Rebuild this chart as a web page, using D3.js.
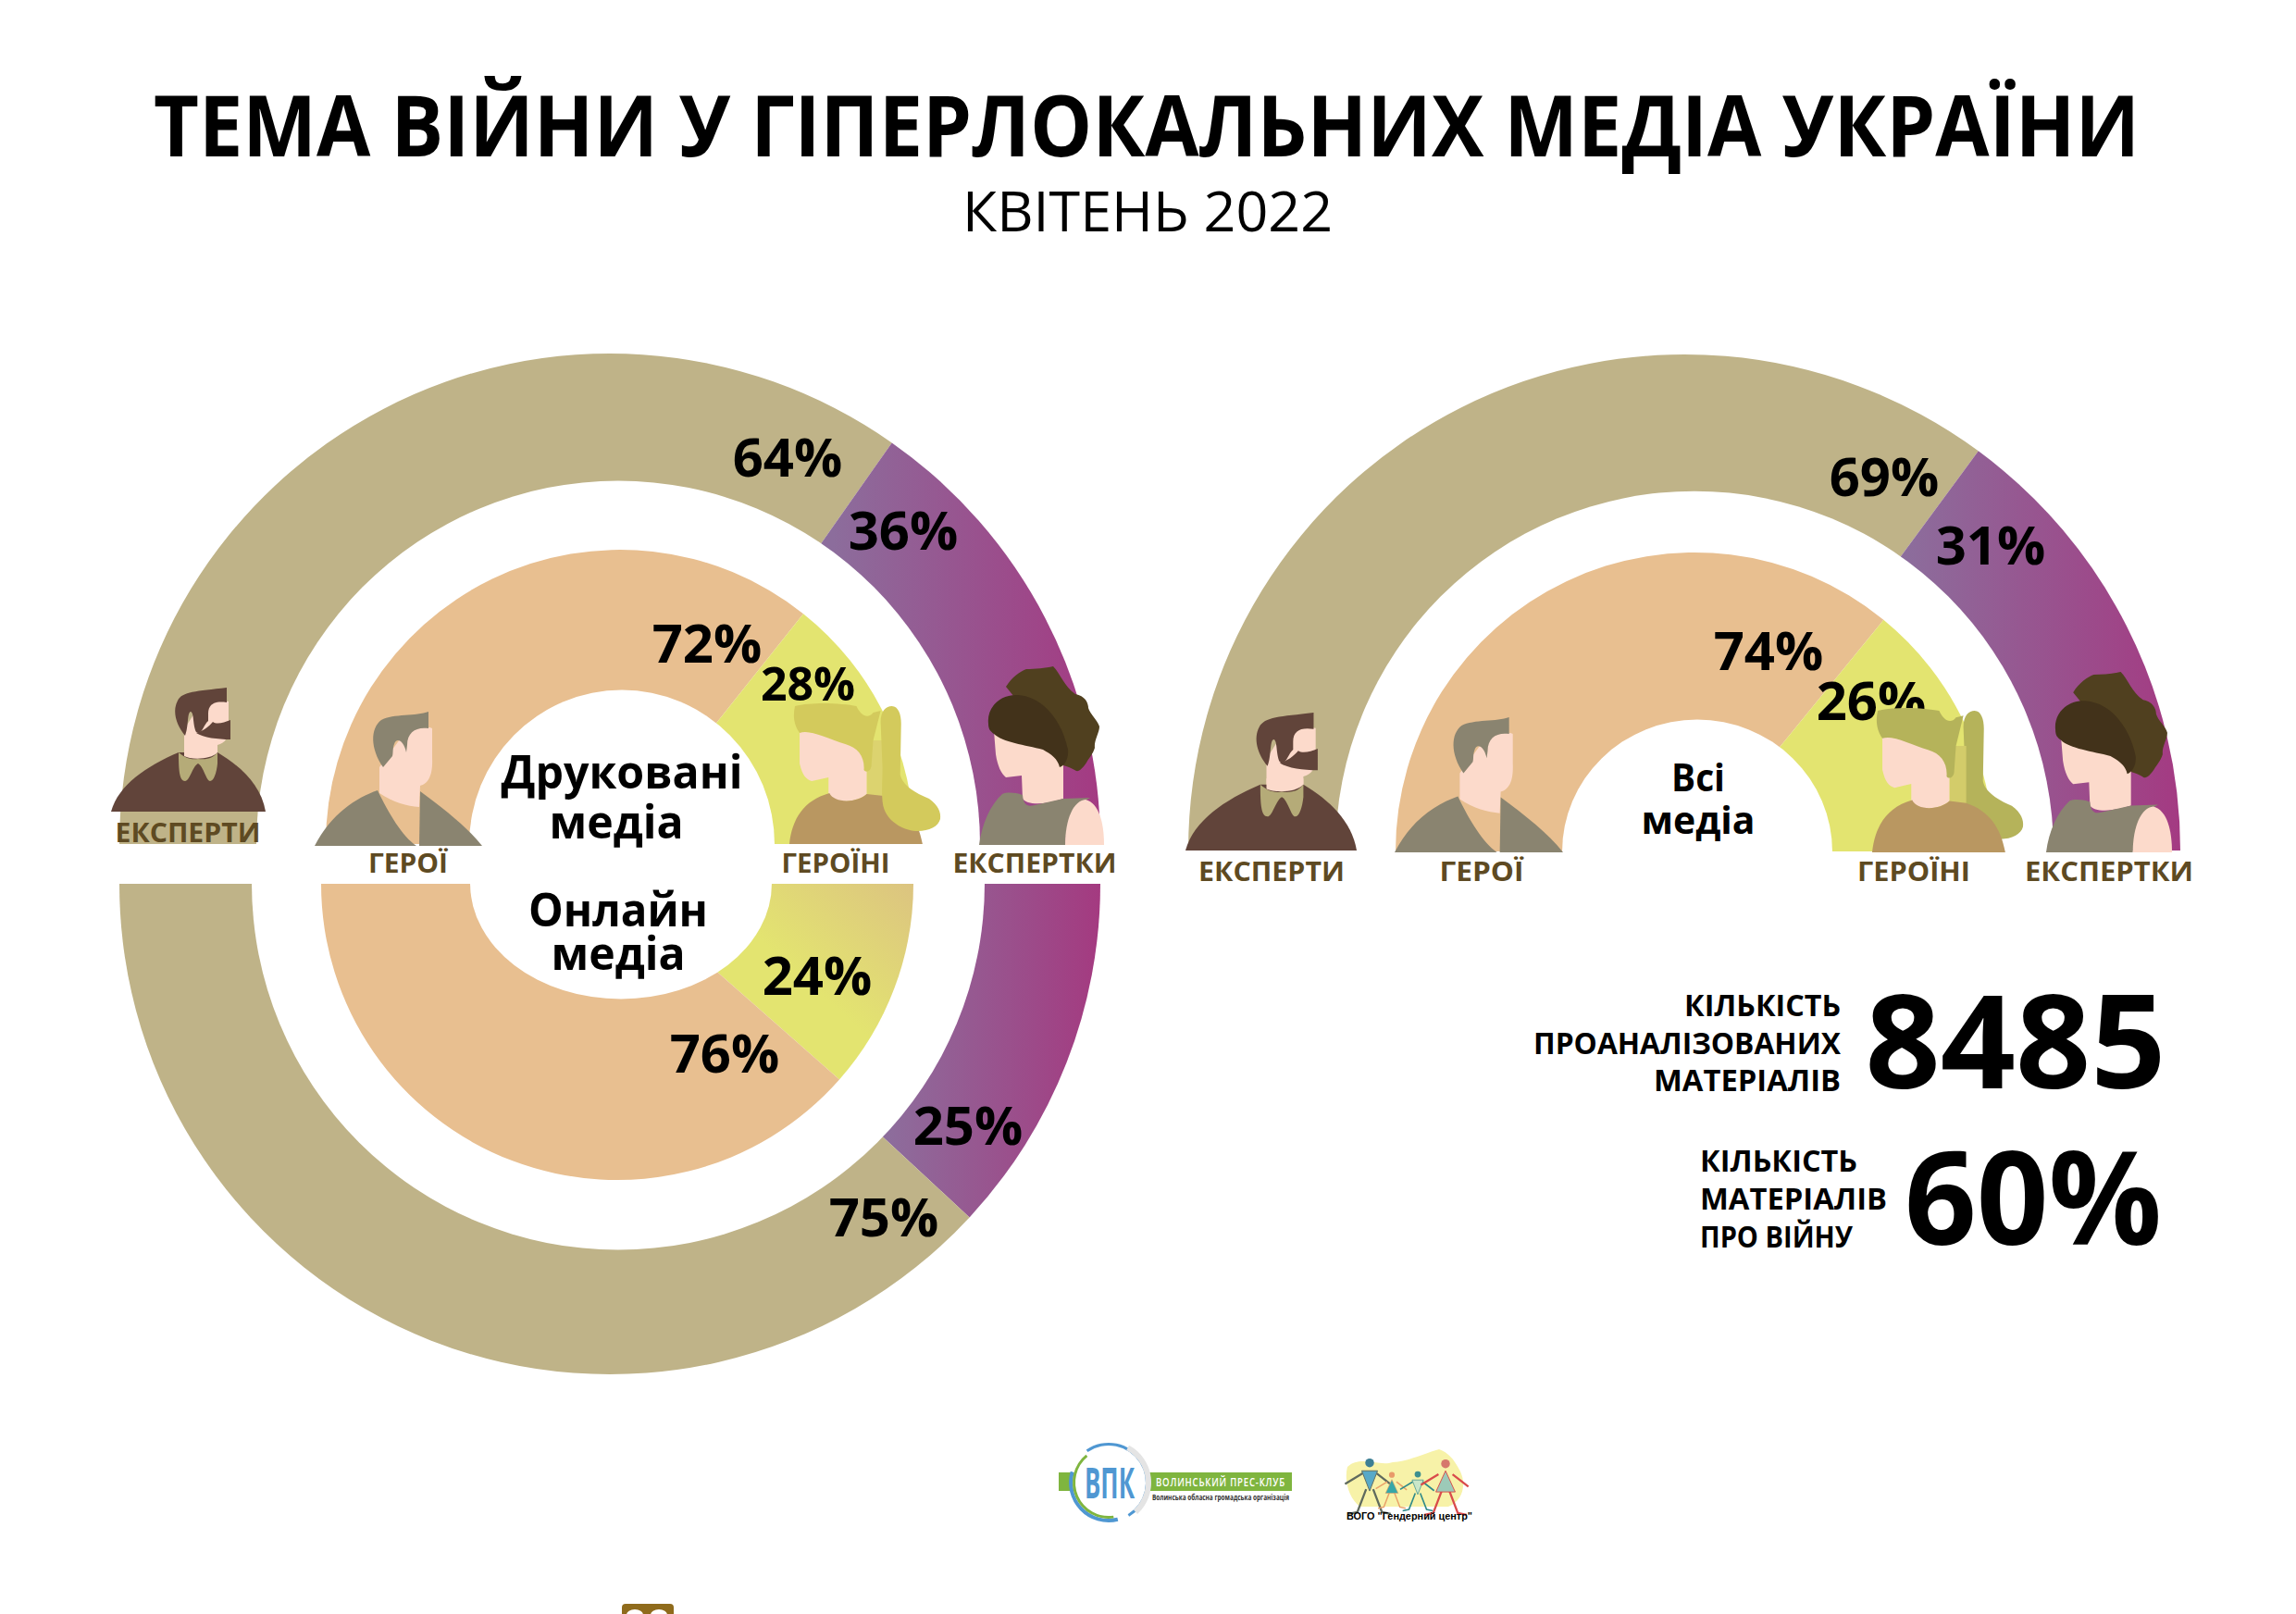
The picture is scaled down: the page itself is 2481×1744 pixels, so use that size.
<!DOCTYPE html>
<html lang="uk">
<head>
<meta charset="utf-8">
<title>Тема війни у гіперлокальних медіа України</title>
<script src="https://cdn.jsdelivr.net/npm/d3@7"></script>
<style>
  html, body { margin: 0; background: #fff; }
  svg { display: block; }
  text { font-family: "Open Sans", sans-serif; fill: #000; }
</style>
</head>
<body>
<svg id="chart" width="2481" height="1744"></svg>
<script>
(function () {
  // printed percentages
  const printExperts = [64, 36];
  const printHeroes = [72, 28];
  const onlineExperts = [25, 75];
  const onlineHeroes = [24, 76];
  const allExperts = [69, 31];
  const allHeroes = [74, 26];

  // slice shares (the source does not always draw the printed number)
  const printExpertsShare = [69.5, 30.5];
  const printHeroesShare = [71.4, 28.6];
  const onlineExpertsShare = [23.8, 76.2];
  const onlineHeroesShare = [23, 77];
  const allExpertsShare = [70.2, 29.8];
  const allHeroesShare = [71.8, 28.2];

  const personLabels = ["ЕКСПЕРТИ", "ГЕРОЇ", "ГЕРОЇНІ", "ЕКСПЕРТКИ"];
  const statsCount = 8485;
  const statsWar = 60;

  const svg = d3.select("#chart");
  const defs = svg.append("defs");

  const KHAKI = "#bfb388";
  const ORANGE = "#e8bf90";
  const YELLOW = "#e3e470";
  const LABEL = "#5e4a22";
  const SKIN = "#fcdacb";
  const GREY = "#8a8470";

  // coordinates are relative to the pie centre, the pie group is translated
  function gradient(id, x1, y1, x2, y2, from, to) {
    const g = defs.append("linearGradient").attr("id", id)
      .attr("gradientUnits", "userSpaceOnUse")
      .attr("x1", x1).attr("y1", y1).attr("x2", x2).attr("y2", y2);
    g.append("stop").attr("offset", 0).attr("stop-color", from);
    g.append("stop").attr("offset", 1).attr("stop-color", to);
  }
  gradient("purpleLeftTop", 241, 0, 530, 0, "#8c6d9c", "#a43a82");
  gradient("purpleLeftBottom", 301, 0, 530, 0, "#8d6d9c", "#a43a80");
  gradient("purpleRight", 240, 0, 536, 0, "#8c6d9c", "#a43a82");
  gradient("yellowOnline", 220, 120, 323, 5, "#e3e470", "#dcc480");

  // half ring painted as a half pie, the hole is a white ellipse on top
  function halfPie(cx, cy, r, shares, colors, top) {
    const pie = d3.pie().sort(null)
      .startAngle(top ? -Math.PI / 2 : Math.PI / 2)
      .endAngle(top ? Math.PI / 2 : Math.PI * 1.5);
    const arc = d3.arc().innerRadius(0).outerRadius(r);
    svg.append("g").attr("transform", `translate(${cx},${cy})`)
      .selectAll("path").data(pie(shares)).enter().append("path")
      .attr("d", arc)
      .attr("fill", (d, i) => colors[i]);
  }
  function hole(cx, cy, rx, ry, top) {
    const h = top ? `M${cx - rx},${cy} A${rx},${ry} 0 0 1 ${cx + rx},${cy} Z`
      : `M${cx - rx},${cy} A${rx},${ry} 0 0 0 ${cx + rx},${cy} Z`;
    svg.append("path").attr("d", h).attr("fill", "#fff");
  }

  // left chart, top half (print)
  halfPie(659, 912, 530, printExpertsShare, [KHAKI, "url(#purpleLeftTop)"], true);
  hole(668, 912.5, 391, 393, true);
  halfPie(670, 912, 318, printHeroesShare, [ORANGE, YELLOW], true);
  hole(672, 912.5, 165, 167, true);

  // left chart, bottom half (online)
  halfPie(659, 955, 530, onlineExpertsShare, ["url(#purpleLeftBottom)", KHAKI], false);
  hole(668, 954.5, 396, 396, false);
  halfPie(667, 955, 320, onlineHeroesShare, ["url(#yellowOnline)", ORANGE], false);
  hole(671, 954.5, 163, 125, false);

  // right chart
  halfPie(1820, 919, 536, allExpertsShare, [KHAKI, "url(#purpleRight)"], true);
  hole(1831, 919.5, 388, 389, true);
  halfPie(1831, 920, 323, allHeroesShare, [ORANGE, YELLOW], true);
  hole(1834, 920.5, 146, 143, true);

  // ---- people, drawn in their own box and fitted with a transform
  function place(x, y, w, h, bw, bh) {
    return svg.append("g").attr("transform", `translate(${x},${y}) scale(${w / bw},${h / bh})`);
  }
  function shape(g, d, fill) { g.append("path").attr("d", d).attr("fill", fill); }

  function expertMan(x, y, w, h) {
    const g = place(x, y, w, h, 167, 134);
    shape(g, "M79,45 L79,70 C85,78 105,78 115,70 L115,62 C123,60 127,55 127,42 L127,15 L100,12 Z", SKIN);
    shape(g, "M0,134 C8,105 38,85 73,70 L115,70 C140,85 162,105 167,134 Z", "#61443a");
    shape(g, "M73,70 C80,76 85,78 94,77 C105,78 110,76 115,70 L115,82 C114,92 111,101 107,101 C103,101 100,85 94,82 C88,85 85,101 80,101 C74,101 73,90 73,70 Z", "#b5ab78");
    shape(g, "M79,74 L79,64 L115,64 L115,70 C108,78 86,78 79,74 Z", SKIN);
    shape(g, "M80,52 C70,40 66,25 72,14 C77,4 92,4 125,0 L125,16 C112,14 105,18 105,28 L105,36 C100,40 98,52 92,48 C88,40 90,27 86,26 C82,27 84,42 80,52 Z", "#61443a");
    shape(g, "M110,37 C114,40 122,38 129,35 L129,56 C115,56 100,54 92,49 C99,47 106,42 110,37 Z", "#61443a");
  }

  function heroMan(x, y, w, h) {
    const g = place(x, y, w, h, 181, 145);
    shape(g, "M70,88 C85,98 100,102 113,103 L114,80 C122,78 128,70 127,50 L127,18 C118,14 100,18 92,30 L70,60 Z", SKIN);
    shape(g, "M0,145 C18,110 45,93 68,85 C80,110 95,135 110,145 Z", GREY);
    shape(g, "M114,86 C140,105 165,125 181,145 L113,145 Z", GREY);
    shape(g, "M74,60 C60,40 60,18 72,9 C85,2 110,5 123,0 L123,18 C110,16 100,22 100,36 L99,44 C96,30 88,28 86,35 C84,40 85,45 84,48 Z", GREY);
  }

  // tailOnTop: on the left chart the ponytail lies over the dress, on the right one behind it
  function heroine(x, y, w, h, hair, hairBack, tailOnTop) {
    const g = place(x, y, w, h, 162, 152);
    const tail = "M98,20 C98,8 104,3 110,3 C117,3 120,12 120,22 L119,77 C121,88 135,97 150,103 C160,110 163,118 162,125 C160,133 150,138 138,138 C125,138 108,130 102,115 C98,105 100,85 100,70 Z";
    const dress = "M0,152 C3,125 15,105 43,97 C48,108 72,108 83,98 L101,100 C125,108 138,125 143,152 Z";
    if (!tailOnTop) shape(g, tail, hair);
    shape(g, "M83,40 L101,40 L101,108 L83,108 Z", hairBack);
    shape(g, "M11,30 L11,65 C14,78 18,82 24,84 L42,80 L42,100 C48,108 72,108 83,98 L83,40 Z", SKIN);
    shape(g, dress, "#b99761");
    if (tailOnTop) shape(g, tail, hair);
    shape(g, "M6,3 C25,-2 58,0 72,3 C76,12 84,18 90,10 L98,8 L90,40 L88,68 C87,74 82,75 80,72 C81,58 74,48 60,44 C40,38 22,28 11,32 C4,22 4,12 6,3 Z", hair);
  }

  function expertWoman(x, y, w, h) {
    const g = place(x, y, w, h, 135, 193);
    shape(g, "M29,22 C35,12 45,5 51,3 C60,3 72,2 80,0 C88,8 92,22 104,30 C115,32 118,40 118,45 C120,52 128,58 130,65 C130,72 124,80 125,88 C123,95 118,100 116,104 C112,110 108,114 105,113 C100,110 95,108 91,107 L60,60 Z", "#50401f");
    shape(g, "M16,70 L18,95 C20,108 24,116 29,120 L46,118 L47,143 C52,150 70,150 91,143 L91,100 L60,75 Z", SKIN);
    shape(g, "M0,193 C3,170 12,150 25,138 C30,136 38,136 47,139 C48,150 52,152 60,150 L91,143 L120,142 C105,150 95,165 93,193 Z", GREY);
    shape(g, "M93,193 C93,165 102,145 115,144 C130,148 135,170 135,193 Z", SKIN);
    shape(g, "M10,62 C8,45 22,30 42,31 C70,33 90,60 96,90 C97,100 92,108 87,109 C85,100 78,95 69,90 C50,85 25,82 16,73 C12,70 10,68 10,62 Z", "#42321a");
  }

  expertMan(120, 743, 167, 134);
  heroMan(340, 769, 181, 145);
  expertWoman(1058, 720, 135, 193);
  expertMan(1281, 770, 185, 149);
  heroMan(1507, 775, 182, 146);
  expertWoman(2211, 726, 136, 195);

  // ---- labels
  function label(text, x, y, size, weight, opts) {
    opts = opts || {};
    return svg.append("text").text(text)
      .attr("x", x).attr("y", y - size * 0.04)
      .attr("text-anchor", opts.anchor || "middle")
      .attr("dominant-baseline", "central")
      .attr("font-size", size)
      .attr("font-weight", weight)
      .attr("textLength", opts.len || null)
      .attr("lengthAdjust", opts.len ? "spacingAndGlyphs" : null)
      .style("fill", opts.fill || "#000");
  }
  const pct = v => `${v}%`;

  label("ТЕМА ВІЙНИ У ГІПЕРЛОКАЛЬНИХ МЕДІА УКРАЇНИ", 1239, 137, 92, 700, { len: 2146 });
  label("КВІТЕНЬ 2022", 1240, 229, 60, 400, { len: 400 });

  const personX = [203, 441, 903, 1118];
  const personY = [900, 933, 933, 933];
  const personXAll = [1374, 1601, 2068, 2279];
  const personLen = [157, 86, 117, 177];
  personLabels.forEach((t, i) => {
    label(t, personX[i], personY[i], 28, 700, { fill: LABEL, len: personLen[i] });
    label(t, personXAll[i], 942, 28, 700, { fill: LABEL, len: i === 0 ? 158 : personLen[i] + 5 });
  });

  label(pct(printExperts[0]), 851, 495, 58, 700);
  label(pct(printExperts[1]), 976, 574, 58, 700);
  label(pct(printHeroes[0]), 764, 696, 58, 700);
  label(pct(printHeroes[1]), 873, 740, 50, 700);
  label(pct(onlineHeroes[0]), 883, 1055, 58, 700);
  label(pct(onlineHeroes[1]), 783, 1139, 58, 700);
  label(pct(onlineExperts[0]), 1046, 1217, 58, 700);
  label(pct(onlineExperts[1]), 955, 1316, 58, 700);
  label(pct(allExperts[0]), 2036, 516, 58, 700);
  label(pct(allExperts[1]), 2151, 590, 58, 700);
  label(pct(allHeroes[0]), 1911, 704, 58, 700);
  label(pct(allHeroes[1]), 2022, 758, 58, 700);

  // heroines go after their labels, the hair covers the 26%
  heroine(853, 760, 163, 152, "#d3ca5c", "#dcd36f", true);
  heroine(2023, 765, 163, 156, "#b5b35a", "#d3cc6a", false);

  label("Друковані", 672, 835, 50, 700, { len: 261 });
  label("медіа", 666, 889, 50, 700, { len: 145 });
  label("Онлайн", 668, 984, 50, 700, { len: 194 });
  label("медіа", 668, 1031, 50, 700, { len: 145 });
  label("Всі", 1835, 840, 42, 700, { len: 58 });
  label("медіа", 1835, 886, 42, 700, { len: 123 });

  const statsLeftLen = [169, 332, 202];
  ["КІЛЬКІСТЬ", "ПРОАНАЛІЗОВАНИХ", "МАТЕРІАЛІВ"].forEach((t, i) => {
    label(t, 1989, 1087 + i * 40.5, 32, 700, { anchor: "end", len: statsLeftLen[i] });
  });
  const statsWarLen = [170, 202, 165];
  ["КІЛЬКІСТЬ", "МАТЕРІАЛІВ", "ПРО ВІЙНУ"].forEach((t, i) => {
    label(t, 1837, 1255 + i * 41, 32, 700, { anchor: "start", len: statsWarLen[i] });
  });
  label(String(statsCount), 2178, 1127, 140, 700, { len: 325 });
  label(pct(statsWar), 2197, 1296, 140, 700, { len: 278 });

  // ---- logos
  const vpk = svg.append("g");
  vpk.append("rect").attr("x", 1144).attr("y", 1591).attr("width", 252).attr("height", 20).attr("fill", "#7fb53f");
  vpk.append("circle").attr("cx", 1200).attr("cy", 1602).attr("r", 41).attr("fill", "#fff");
  const ringArc = d3.arc();
  [[43, 40, -0.6, 2.6, "#4f97d2"], [43, 39, 2.9, 5.0, "#4f97d2"], [39, 36, 3.0, 5.6, "#7fb53f"], [46, 40, 0.5, 2.4, "#e4e4e4"]].forEach(r => {
    vpk.append("path").attr("transform", "translate(1198,1602)")
      .attr("d", ringArc({ innerRadius: r[1], outerRadius: r[0], startAngle: r[2], endAngle: r[3] }))
      .attr("fill", r[4]);
  });
  label("ВПК", 1199, 1603, 46, 700, { fill: "#4f97d2", len: 54 });
  label("ВОЛИНСЬКИЙ ПРЕС-КЛУБ", 1319, 1602, 12, 600, { fill: "#fff", len: 140 }).style("letter-spacing", "1px");
  label("Волинська обласна громадська організація", 1319, 1618, 8, 700, { fill: "#333", len: 148 });

  const gender = svg.append("g");
  gender.append("path")
    .attr("d", "M1456,1585 C1470,1572 1490,1585 1505,1580 C1525,1578 1540,1570 1555,1566 C1565,1570 1570,1575 1578,1590 C1585,1605 1580,1622 1565,1628 L1470,1628 C1458,1620 1452,1600 1456,1585 Z")
    .attr("fill", "#f7f2a8");
  function figure(cx, top, scale, head, bodyFill, limb, up) {
    const g = gender.append("g").attr("transform", `translate(${cx},${top}) scale(${scale})`);
    g.append("path").attr("d", "M-8,18 L-28,30 M8,18 L26,32 M-4,36 L-14,62 L-24,64 M4,36 L14,62 L24,64")
      .attr("stroke", limb).attr("stroke-width", 2.4).attr("fill", "none");
    g.append("path").attr("d", up ? "M-9,15 L9,15 L0,38 Z" : "M0,14 L11,38 L-11,38 Z").attr("fill", bodyFill).attr("stroke", limb);
    g.append("circle").attr("cy", 6).attr("r", 5).attr("fill", head);
  }
  figure(1480, 1575, 0.95, "#3d7f94", "#58a9c8", "#5f6a5e", true);
  figure(1504, 1590, 0.62, "#e89a6a", "#36a7a8", "#e9a068", false);
  figure(1532, 1589, 0.68, "#3d8f8f", "#c9e6c9", "#2f8a8a", true);
  figure(1562, 1576, 0.95, "#d6786c", "#9ccab8", "#d94b4b", false);
  label("ВОГО \"Гендерний центр\"", 1523, 1639, 10, 700, { len: 136 }).style("font-family", "Liberation Sans");

  // cut-off badge at the very bottom edge
  svg.append("rect").attr("x", 672).attr("y", 1733).attr("width", 56).attr("height", 20).attr("rx", 4).attr("fill", "#8f6b1c");
  [686, 712].forEach(cx => {
    svg.append("ellipse").attr("cx", cx).attr("cy", 1745).attr("rx", 9).attr("ry", 6).attr("fill", "#fff");
  });
})();
</script>
</body>
</html>
